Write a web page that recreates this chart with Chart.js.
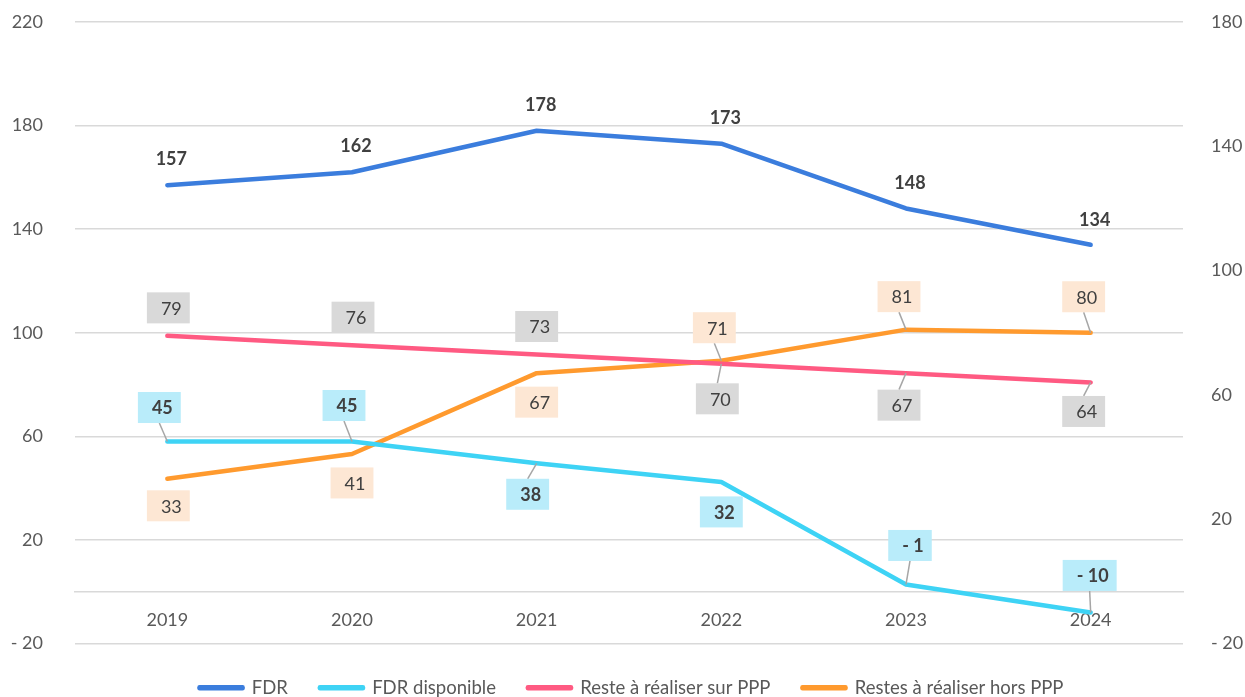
<!doctype html>
<html lang="fr">
<head>
<meta charset="utf-8">
<title>FDR et restes à réaliser</title>
<script src="https://cdn.jsdelivr.net/npm/chart.js@4.4.0/dist/chart.umd.min.js"></script>
<style>
  html, body { margin: 0; padding: 0; background: #fff; }
  .wrap { width: 1245px; height: 697px; }
</style>
</head>
<body>
<div class="wrap"><canvas id="chart"></canvas></div>
<script>
// values
const years         = ['2019', '2020', '2021', '2022', '2023', '2024'];
const fdr           = [157, 162, 178, 173, 148, 134];
const fdrDisponible = [45, 45, 38, 32, -1, -10];
const resteSurPPP   = [79, 76, 73, 70, 67, 64];
const restesHorsPPP = [33, 41, 67, 71, 81, 80];

const FONT = 'Lato, "Open Sans", sans-serif';
const TEXT = '#595959';
const GRID = '#d9d9d9';

// Excel style "- 20" for negatives
function fmt(v) {
  return v < 0 ? '- ' + Math.abs(v) : String(v);
}

// label placement per dataset: box colour, weight, offset of box centre from point, leader line
const labelStyles = [
  { fill: null,      bold: true,
    offsets: [[1, -27], [1, -27], [1, -27], [1, -27], [1, -26], [1, -26]],
    leaders: [0, 0, 0, 0, 0, 0] },
  { fill: '#b9ecfa', bold: true,
    offsets: [[-8, -34], [-8, -36], [-9, 31], [0, 30], [4, -39], [-1, -37]],
    leaders: [1, 1, 1, 0, 1, 1] },
  { fill: '#d9d9d9', bold: false,
    offsets: [[1, -28], [1, -28], [0, -28], [-4, 35], [-7, 32], [-7, 29]],
    leaders: [0, 0, 0, 1, 1, 1] },
  { fill: '#fde7d4', bold: false,
    offsets: [[1, 27], [0, 29], [0, 29], [-7, -33], [-7, -33], [-7, -36]],
    leaders: [0, 0, 0, 1, 1, 1] },
];

const BOX_H = 31;

const valueLabels = {
  id: 'valueLabels',
  afterDatasetsDraw(chart) {
    const ctx = chart.ctx;
    const items = [];
    chart.data.datasets.forEach((ds, i) => {
      const st = labelStyles[i];
      chart.getDatasetMeta(i).data.forEach((pt, j) => {
        items.push({
          cx: pt.x + st.offsets[j][0],
          cy: pt.y + st.offsets[j][1],
          px: pt.x, py: pt.y,
          text: fmt(ds.data[j]),
          st, leader: st.leaders[j],
        });
      });
    });

    ctx.save();
    ctx.strokeStyle = '#a6a6a6';
    ctx.lineWidth = 1.5;
    items.forEach(it => {
      if (!it.leader) return;
      const ey = it.cy < it.py ? it.cy + BOX_H / 2 : it.cy - BOX_H / 2;
      ctx.beginPath();
      ctx.moveTo(it.cx, ey);
      ctx.lineTo(it.px, it.py);
      ctx.stroke();
    });

    ctx.textAlign = 'center';
    ctx.textBaseline = 'middle';
    items.forEach(it => {
      ctx.font = (it.st.bold ? 'bold ' : '') + '18px ' + FONT;
      const w = ctx.measureText(it.text).width;
      if (it.st.fill) {
        ctx.fillStyle = it.st.fill;
        ctx.fillRect(it.cx - w / 2 - 11, it.cy - BOX_H / 2, w + 22, BOX_H);
      }
      ctx.fillStyle = '#404040';
      ctx.fillText(it.text, it.cx + 3, it.cy + 1);
    });
    ctx.restore();
  }
};

// nudge the legend row a little right/down, as in the original
const legendNudge = {
  id: 'legendNudge',
  afterLayout(chart) {
    const lg = chart.legend;
    lg.left += 9; lg.right += 9;
    lg.top += 3; lg.bottom += 3;
  }
};

function line(label, data, color, axis) {
  return {
    label, data, yAxisID: axis,
    borderColor: color, backgroundColor: color,
    borderWidth: 4.5, pointRadius: 0, pointHoverRadius: 0,
    borderCapStyle: 'round', borderJoinStyle: 'round',
    tension: 0, fill: false,
  };
}

new Chart(document.getElementById('chart'), {
  type: 'line',
  data: {
    labels: years,
    datasets: [
      line('FDR', fdr, '#3b7ddd', 'y'),
      line('FDR disponible', fdrDisponible, '#3ed3f5', 'y1'),
      line('Reste à réaliser sur PPP', resteSurPPP, '#ff5a82', 'y1'),
      line('Restes à réaliser hors PPP', restesHorsPPP, '#ff9a2e', 'y1'),
    ]
  },
  options: {
    responsive: true,
    maintainAspectRatio: false,
    animation: false,
    devicePixelRatio: 1,
    layout: { padding: { top: 22, bottom: -7, left: 0, right: 0 } },
    plugins: {
      tooltip: { enabled: false },
      legend: {
        position: 'bottom',
        labels: {
          font: { family: FONT, size: 18.5 },
          color: TEXT,
          boxWidth: 43,
          boxHeight: 1,
          padding: 32,
        }
      }
    },
    scales: {
      x: {
        position: { y: 0 },
        offset: true,
        grid: { display: false, drawTicks: false },
        border: { display: true, color: GRID, width: 1.5 },
        ticks: { font: { family: FONT, size: 18 }, color: TEXT, padding: 18 },
        afterFit: s => { s.height = 0; }
      },
      // label gap comes from an invisible tick mark, ticks.padding would also pad the chart top
      y: {
        position: 'left',
        min: -20, max: 220,
        ticks: { stepSize: 40, font: { family: FONT, size: 18 }, color: TEXT, padding: 3,
                 callback: v => fmt(v) },
        grid: { color: GRID, lineWidth: 1.5, drawTicks: true, tickLength: 29, tickColor: 'rgba(0,0,0,0)' },
        border: { display: false },
        afterFit: s => { s.width = 75; }
      },
      y1: {
        position: 'right',
        min: -20, max: 180,
        ticks: { stepSize: 40, font: { family: FONT, size: 18 }, color: TEXT, padding: 3,
                 callback: v => fmt(v) },
        grid: { drawOnChartArea: false, drawTicks: true, tickLength: 25, tickColor: 'rgba(0,0,0,0)' },
        border: { display: false },
        afterFit: s => { s.width = 62; }
      }
    }
  },
  plugins: [valueLabels, legendNudge]
});
</script>
</body>
</html>
